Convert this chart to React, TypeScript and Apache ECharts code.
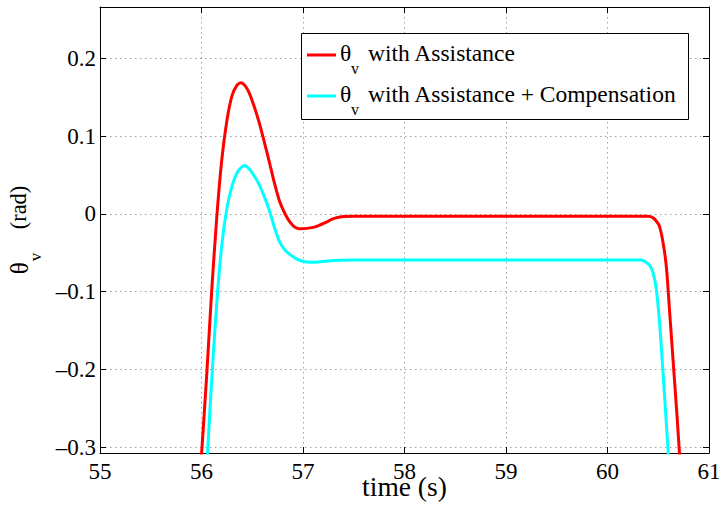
import React, { useEffect, useRef } from "react";
import * as echarts from "echarts";

const redTime = [55.98, 56.0, 56.05, 56.1, 56.15, 56.2, 56.25, 56.3, 56.35, 56.39, 56.43, 56.47, 56.52, 56.57, 56.62, 56.67, 56.72, 56.77, 56.82, 56.87, 56.92, 56.97, 57.04, 57.12, 57.22, 57.3, 57.38, 57.5, 60.4, 60.45, 60.48, 60.51, 60.545, 60.58, 60.61, 60.635, 60.66, 60.685, 60.71, 60.72];
const redTheta = [-0.35, -0.31, -0.21, -0.1, -0.005, 0.07, 0.12, 0.152, 0.166, 0.169, 0.165, 0.156, 0.138, 0.117, 0.092, 0.066, 0.039, 0.016, 0.001, -0.01, -0.017, -0.019, -0.0185, -0.0165, -0.011, -0.006, -0.0035, -0.003, -0.003, -0.005, -0.009, -0.015, -0.035, -0.068, -0.122, -0.168, -0.214, -0.26, -0.31, -0.33];

const cyanTime = [56.05, 56.1, 56.15, 56.2, 56.25, 56.3, 56.35, 56.4, 56.43, 56.47, 56.52, 56.575, 56.62, 56.67, 56.72, 56.77, 56.82, 56.87, 56.94, 57.02, 57.1, 57.2, 57.35, 57.5, 60.33, 60.38, 60.42, 60.45, 60.48, 60.51, 60.54, 60.57, 60.6, 60.61];
const cyanTheta = [-0.33, -0.215, -0.115, -0.04, 0.007, 0.036, 0.053, 0.061, 0.062, 0.058, 0.049, 0.036, 0.022, 0.004, -0.018, -0.036, -0.046, -0.052, -0.058, -0.0615, -0.062, -0.061, -0.0595, -0.0593, -0.0593, -0.062, -0.067, -0.076, -0.096, -0.135, -0.19, -0.25, -0.31, -0.33];

const seriesNames = ["θv with Assistance", "θv with Assistance + Compensation"];
const legendLabels = ["with Assistance", "with Assistance + Compensation"];
const seriesColors = ["#ff0000", "#00ffff"];
const xTicks = { min: 55, max: 61, step: 1 };
const yRange = { min: -0.3077, max: 0.2665 };

const FONT = "'Liberation Serif', 'Times New Roman', serif";

function fmtY(v: number): string {
  const k = Math.round(v * 10);
  if (Math.abs(v * 10 - k) > 1e-6) return "";
  if (k === 0) return "0";
  const s = (Math.abs(k) / 10).toFixed(1);
  return k < 0 ? "\u2013" + s : s;
}

export default function App() {
  const ref = useRef<HTMLDivElement>(null);
  useEffect(() => {
    if (!ref.current) return;
    const chart = echarts.init(ref.current, null, { renderer: "svg" });
    const pair = (xs: number[], ys: number[]) => xs.map((x, i) => [x, ys[i]]);
    const gridLine = { show: true, lineStyle: { color: "#a0a0a0", type: [1.5, 3.5] as any, width: 1 } };
    const axLine = { show: true, onZero: false, lineStyle: { color: "#000", width: 1 } };
    const tick = { show: true, inside: true, length: 6, lineStyle: { color: "#000" } };

    // legend box drawn as graphic (subscripted theta)
    const legendX = 301, legendY = 33, legendW = 387, legendH = 86;
    const rowY = [55, 96];
    const legendEls: any[] = [
      {
        type: "rect", z: 100,
        shape: { x: legendX + 0.5, y: legendY + 0.5, width: legendW, height: legendH },
        style: { fill: "#fff", stroke: "#000", lineWidth: 1 },
      },
    ];
    legendLabels.forEach((lab, i) => {
      const y = rowY[i];
      legendEls.push(
        { type: "line", z: 101, shape: { x1: 307, y1: y, x2: 336, y2: y }, style: { stroke: seriesColors[i], lineWidth: 3 } },
        { type: "text", z: 101, x: 340, y: y - 2, style: { text: "θ", fill: "#000", fontFamily: FONT, fontSize: 23.5, verticalAlign: "middle", align: "left" } },
        { type: "text", z: 101, x: 351, y: y + 13, style: { text: "v", fill: "#000", fontFamily: FONT, fontSize: 16, verticalAlign: "middle", align: "left" } },
        { type: "text", z: 101, x: 368, y: y - 2, style: { text: lab, fill: "#000", fontFamily: FONT, fontSize: 23.5, verticalAlign: "middle", align: "left" } },
      );
    });

    const option: any = {
      animation: false,
      backgroundColor: "#fff",
      textStyle: { fontFamily: FONT, color: "#000" },
      grid: { left: 100, right: 10, top: 7, bottom: 56, containLabel: false, outerBoundsMode: "none" },
      xAxis: [
        {
          type: "value", min: xTicks.min, max: xTicks.max, interval: xTicks.step,
          position: "bottom",
          axisLine: axLine, axisTick: tick, splitLine: gridLine,
          axisLabel: { color: "#000", fontFamily: FONT, fontSize: 23, margin: 7 },
          name: "time (s)", nameLocation: "middle", nameGap: 19, nameMoveOverlap: false,
          nameTextStyle: { color: "#000", fontFamily: FONT, fontSize: 27.5 },
        },
        {
          type: "value", min: xTicks.min, max: xTicks.max, interval: xTicks.step,
          position: "top",
          axisLine: axLine, axisTick: tick, splitLine: { show: false }, axisLabel: { show: false },
        },
      ],
      yAxis: [
        {
          type: "value", min: yRange.min, max: yRange.max, splitNumber: 5,
          position: "left",
          axisLine: axLine, axisTick: tick, splitLine: gridLine,
          axisLabel: { color: "#000", fontFamily: FONT, fontSize: 23, margin: 4, formatter: fmtY, showMinLabel: false, showMaxLabel: false },
          name: "{t|θ}{s|v}{m|    (rad)}", nameLocation: "middle", nameRotate: 90, nameGap: 56, nameMoveOverlap: false,
          nameTextStyle: {
            color: "#000", fontFamily: FONT,
            rich: {
              t: { fontFamily: FONT, fontSize: 25, lineHeight: 36, verticalAlign: "top", color: "#000" },
              m: { fontFamily: FONT, fontSize: 22.5, lineHeight: 36, verticalAlign: "top", color: "#000" },
              s: { fontFamily: FONT, fontSize: 17, verticalAlign: "top", padding: [20, 1, 0, 1], color: "#000" },
            },
          },
        },
        {
          type: "value", min: yRange.min, max: yRange.max, splitNumber: 5,
          position: "right",
          axisLine: axLine, axisTick: tick, splitLine: { show: false }, axisLabel: { show: false },
        },
      ],
      graphic: legendEls,
      series: [
        {
          name: seriesNames[0], type: "line", data: pair(redTime, redTheta),
          showSymbol: false, symbol: "none", smooth: 0.25, color: seriesColors[0],
          lineStyle: { color: seriesColors[0], width: 3 }, clip: true,
        },
        {
          name: seriesNames[1], type: "line", data: pair(cyanTime, cyanTheta),
          showSymbol: false, symbol: "none", smooth: 0.25, color: seriesColors[1],
          lineStyle: { color: seriesColors[1], width: 3 }, clip: true,
        },
      ],
    };
    chart.setOption(option);
    return () => chart.dispose();
  }, []);
  return <div ref={ref} style={{ width: 719, height: 509, position: "absolute", left: 0, top: 0 }} />;
}
